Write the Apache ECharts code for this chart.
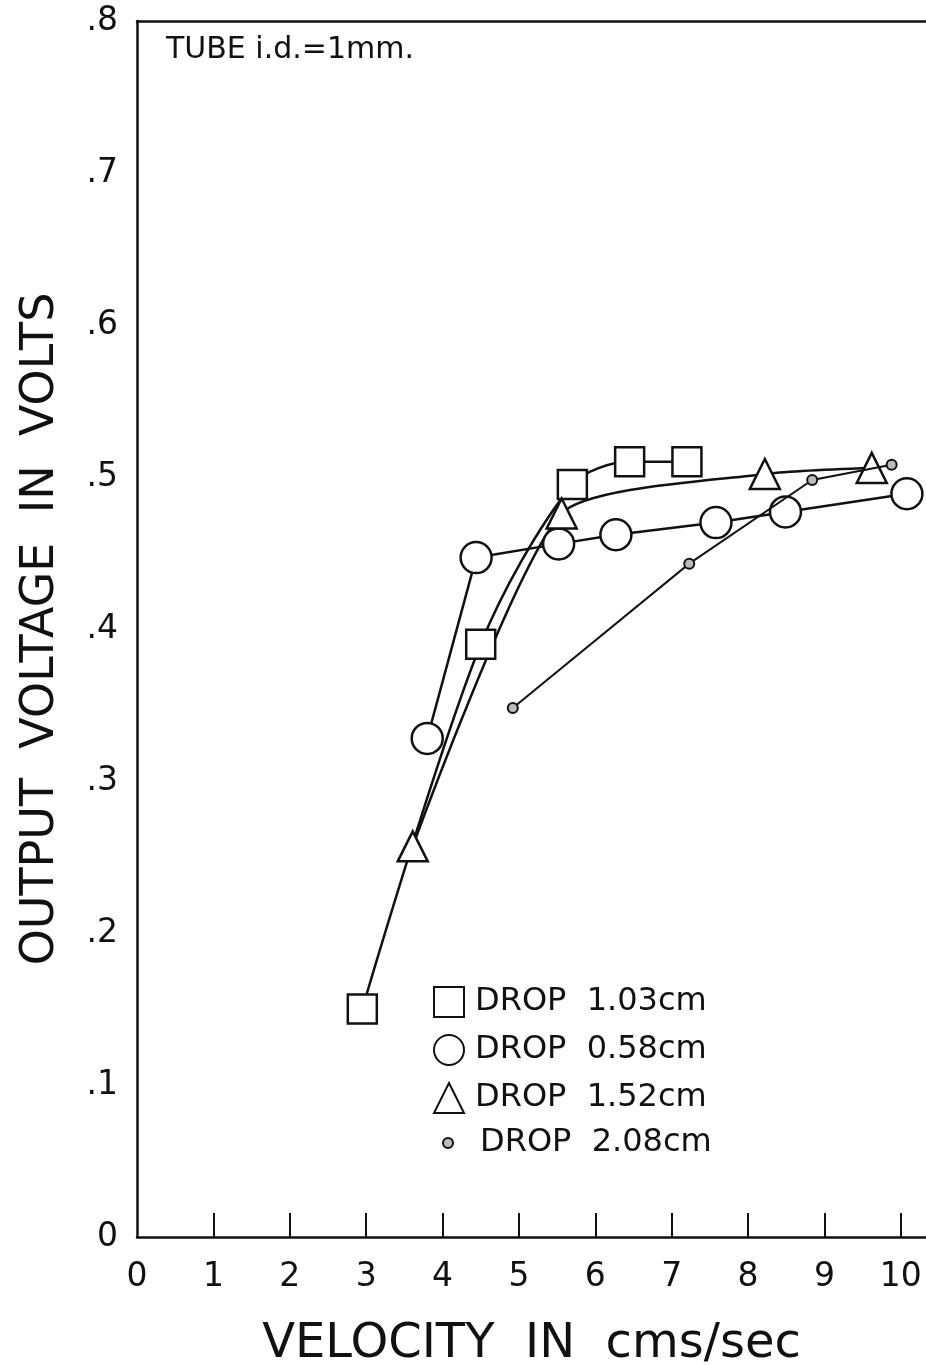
<!DOCTYPE html>
<html>
<head>
<meta charset="utf-8">
<script src="https://cdn.jsdelivr.net/npm/echarts@6/dist/echarts.min.js"></script>
<style>html,body{margin:0;padding:0;background:#fff;}#c{width:926px;height:1365px;}</style>
</head>
<body>
<div id="c"></div>
<script>
var xTicks = [0, 1, 2, 3, 4, 5, 6, 7, 8, 9, 10];
var yTicks = [0, 0.1, 0.2, 0.3, 0.4, 0.5, 0.6, 0.7, 0.8];
var yTickLabels = ['0', '.1', '.2', '.3', '.4', '.5', '.6', '.7', '.8'];
var drop103 = [[2.95, 0.15], [4.5, 0.39], [5.7, 0.495], [6.45, 0.51], [7.2, 0.51]];
var drop058 = [[3.8, 0.328], [4.44, 0.447], [5.52, 0.456], [6.27, 0.462], [7.58, 0.47], [8.49, 0.477], [10.08, 0.489]];
var drop152 = [[3.61, 0.257], [5.56, 0.476], [8.22, 0.502], [9.62, 0.506]];
var drop208 = [[4.92, 0.348], [7.23, 0.443], [8.84, 0.498], [9.88, 0.508]];
var seriesNames = ['DROP  1.03cm', 'DROP  0.58cm', 'DROP  1.52cm', 'DROP  2.08cm'];
var titleText = 'TUBE i.d.=1mm.';
var xName = 'VELOCITY  IN  cms/sec';
var yName = 'OUTPUT  VOLTAGE  IN  VOLTS';

var FONT = 'DejaVu Sans';
var chart = echarts.init(document.getElementById('c'));
var markerStyle = {color: '#fff', borderColor: '#111', borderWidth: 2.5};
chart.setOption({
  backgroundColor: '#fff',
  animation: false,
  grid: {left: 137, top: 21, right: 0, bottom: 128, containLabel: false, outerBoundsMode: 'none'},
  title: {text: titleText, left: 161, top: 30, textStyle: {fontFamily: FONT, fontSize: 30, fontWeight: 'normal', color: '#111'}},
  legend: [
    {orient: 'vertical', left: 428, top: 981, itemWidth: 30, itemHeight: 30, itemGap: 16,
     data: [{name: seriesNames[0], icon: 'rect'}, {name: seriesNames[1], icon: 'circle'}, {name: seriesNames[2], icon: 'triangle'}],
     textStyle: {fontFamily: FONT, fontSize: 32, color: '#111', padding: [0, 0, 0, 6]}},
    {orient: 'vertical', left: 437, top: 1122, itemWidth: 10, itemHeight: 10,
     data: [{name: seriesNames[3], icon: 'circle'}],
     textStyle: {fontFamily: FONT, fontSize: 32, color: '#111', padding: [0, 0, 0, 22]}}
  ],
  xAxis: [{
    type: 'value', min: 0, max: 10.33, interval: 1,
    name: xName, nameLocation: 'middle', nameGap: 84,
    nameTextStyle: {fontFamily: FONT, fontSize: 48, color: '#111'},
    axisLine: {show: true, lineStyle: {color: '#111', width: 2.5}},
    axisTick: {show: true, inside: true, length: 24, lineStyle: {color: '#111', width: 2}, customValues: xTicks.slice(1)},
    axisLabel: {customValues: xTicks, margin: 24, fontFamily: FONT, fontSize: 33, color: '#111'},
    splitLine: {show: false}
  }, {
    type: 'value', position: 'top', min: 0, max: 10.33,
    axisLine: {show: true, lineStyle: {color: '#111', width: 2.5}},
    axisTick: {show: false}, axisLabel: {show: false}, splitLine: {show: false}
  }],
  yAxis: {
    type: 'value', min: 0, max: 0.8, interval: 0.1,
    name: yName, nameLocation: 'middle', nameGap: 73,
    nameTextStyle: {fontFamily: FONT, fontSize: 46, color: '#111'},
    axisLine: {show: true, lineStyle: {color: '#111', width: 2.5}},
    axisTick: {show: false},
    axisLabel: {margin: 19, fontFamily: FONT, fontSize: 33, color: '#111',
      formatter: function (v) { var i = Math.round(v * 10); return yTickLabels[i]; }},
    splitLine: {show: false}
  },
  series: [
    {name: seriesNames[0], type: 'line', data: drop103, symbol: 'rect', symbolSize: 29, smooth: 0.3,
     lineStyle: {color: '#111', width: 2.5}, itemStyle: markerStyle, z: 3},
    {name: seriesNames[1], type: 'line', data: drop058, symbol: 'circle', symbolSize: 31,
     lineStyle: {color: '#111', width: 2.5}, itemStyle: markerStyle, z: 3},
    {name: seriesNames[2], type: 'line', data: drop152, symbol: 'triangle', symbolSize: 30, smooth: 0.2,
     lineStyle: {color: '#111', width: 2.5}, itemStyle: markerStyle, z: 3},
    {name: seriesNames[3], type: 'line', data: drop208, symbol: 'circle', symbolSize: 10,
     lineStyle: {color: '#111', width: 2}, itemStyle: {color: '#bbb', borderColor: '#111', borderWidth: 2}, z: 4}
  ]
});
</script>
</body>
</html>
